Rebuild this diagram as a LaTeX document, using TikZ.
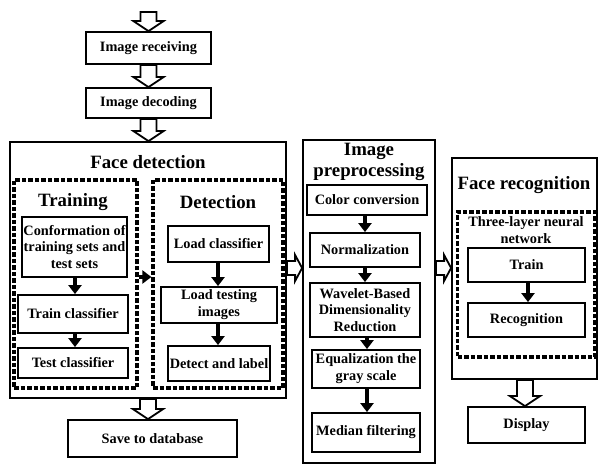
\documentclass[tikz,border=0pt]{standalone}
\usepackage{fontspec}
\setmainfont{Liberation Serif}
\usetikzlibrary{arrows.meta,calc}
\newcommand{\boxfont}{\bfseries\fontsize{14.3}{16.8}\selectfont}
\newcommand{\ttlfont}{\bfseries\fontsize{18.8}{20}\selectfont}
\newcommand{\hollowdown}[2]{\draw[hollow] let \p1=#1, \p2=#2 in
  (\x1-8pt,\y1) -- (\x1-8pt,\y2+10pt) -- (\x1-15pt,\y2+10pt) -- (\x1,\y2)
  -- (\x1+15pt,\y2+10pt) -- (\x1+8pt,\y2+10pt) -- (\x1+8pt,\y1) -- cycle;}
\newcommand{\hollowright}[2]{\draw[hollow] let \p1=#1, \p2=#2 in
  (\x1,\y1+7pt) -- (\x2-7pt,\y1+7pt) -- (\x2-7pt,\y1+13pt) -- (\x2,\y1)
  -- (\x2-7pt,\y1-13pt) -- (\x2-7pt,\y1-7pt) -- (\x1,\y1-7pt) -- cycle;}
\begin{document}
\begin{tikzpicture}[x=1pt,y=-1pt,
  box/.style={draw,line width=1.8pt,inner sep=0pt,align=center,font=\boxfont},
  outerbox/.style={draw,line width=1.8pt,inner sep=0pt},
  dbox/.style={draw,line width=3.2pt,dash pattern=on 4.5pt off 2pt,inner sep=0pt},
  ttl/.style={inner sep=0pt,align=center,font=\ttlfont},
  sub/.style={inner sep=0pt,align=center,font=\boxfont},
  hollow/.style={line width=1.8pt,line join=miter},
  farrow/.style={line width=3.8pt,-{Triangle[length=9pt,width=13pt]}}]
\useasboundingbox (0,0) rectangle (598,465);

% top chain
\coordinate (top) at (148.5,12);
\node[box,minimum width=125pt,minimum height=32pt] (ir) at (148.5,48) {Image receiving};
\node[box,minimum width=125pt,minimum height=30pt] (id) at (148.5,103) {Image decoding};

% face detection
\node[outerbox,minimum width=276pt,minimum height=256pt] (fd) at (148,270) {};
\node[ttl] (fdt) at (148,162) {Face detection};
\node[dbox,minimum width=123pt,minimum height=208pt] (tr) at (75.5,284) {};
\node[dbox,minimum width=130pt,minimum height=208pt] (de) at (218,284) {};
\node[ttl] (trt) at (73,202) {Training};
\node[ttl] (det) at (218,202) {Detection};
\node[box,minimum width=105pt,minimum height=60pt] (conf) at (74.5,247) {Conformation of\\training sets and\\test sets};
\node[box,minimum width=110pt,minimum height=38pt] (tc) at (73,314) {Train classifier};
\node[box,minimum width=110pt,minimum height=30pt] (tec) at (73,363) {Test classifier};
\node[box,minimum width=101pt,minimum height=36pt] (lc) at (218.5,244) {Load classifier};
\node[box,minimum width=116pt,minimum height=36pt] (lti) at (219,305) {Load testing\\images};
\node[box,minimum width=102pt,minimum height=35pt] (dal) at (219,363.5) {Detect and label};
\node[box,minimum width=169pt,minimum height=37pt] (save) at (152.5,438.5) {Save to database};

% image preprocessing
\node[outerbox,minimum width=132pt,minimum height=323pt] (ip) at (369,301.5) {};
\node[ttl] (ipt) at (369,162) {Image\\[1pt]preprocessing};
\node[box,minimum width=120pt,minimum height=30pt] (cc) at (367,200) {Color conversion};
\node[box,minimum width=110pt,minimum height=34pt] (nm) at (365,250) {Normalization};
\node[box,minimum width=110pt,minimum height=54pt] (wv) at (365,310) {Wavelet-Based\\Dimensionality\\Reduction};
\node[box,minimum width=108pt,minimum height=38pt] (eq) at (366,369) {Equalization the\\gray scale};
\node[box,minimum width=108pt,minimum height=39pt] (mf) at (366,432.5) {Median filtering};

% face recognition
\node[outerbox,minimum width=145pt,minimum height=221pt] (fr) at (524.5,268.5) {};
\node[ttl] (frt) at (524,185) {Face recognition};
\node[dbox,minimum width=137pt,minimum height=145pt] (nn) at (526,284.5) {};
\node[sub] (nnt) at (526,230) {Three-layer neural\\network};
\node[box,minimum width=117pt,minimum height=34pt] (trn) at (526.5,265) {Train};
\node[box,minimum width=117pt,minimum height=34pt] (rec) at (526.5,320) {Recognition};
\node[box,minimum width=117pt,minimum height=36pt] (disp) at (526.5,425) {Display};

% hollow arrows
\coordinate (hy) at (0,268);
\coordinate (dx) at (525,0);
\hollowdown{(top)}{(ir.north)}
\hollowdown{(ir.south)}{(id.north)}
\hollowdown{(id.south)}{(fd.north)}
\hollowdown{(fd.south)}{(fd.south |- save.north)}
\hollowdown{(dx |- fr.south)}{(dx |- disp.north)}
\hollowright{(fd.east |- hy)}{(ip.west |- hy)}
\hollowright{(ip.east |- hy)}{(fr.west |- hy)}

% filled arrows
\draw[farrow] (conf.south -| 75,0) -- (tc.north -| 75,0);
\draw[farrow] (tc.south -| 75,0) -- (tec.north -| 75,0);
\draw[farrow] (lc.south -| 218,0) -- (lti.north -| 218,0);
\draw[farrow] (lti.south -| 218,0) -- (dal.north -| 218,0);
\draw[farrow] (tr.east |- 0,277) -- (de.west |- 0,277);
\draw[farrow] (cc.south -| 365,0) -- (nm.north -| 365,0);
\draw[farrow] (nm.south -| 365,0) -- (wv.north -| 365,0);
\draw[farrow] (wv.south -| 367,0) -- (eq.north -| 367,0);
\draw[farrow] (eq.south -| 367,0) -- (mf.north -| 367,0);
\draw[farrow] (trn.south -| 528,0) -- (rec.north -| 528,0);
\end{tikzpicture}
\end{document}
